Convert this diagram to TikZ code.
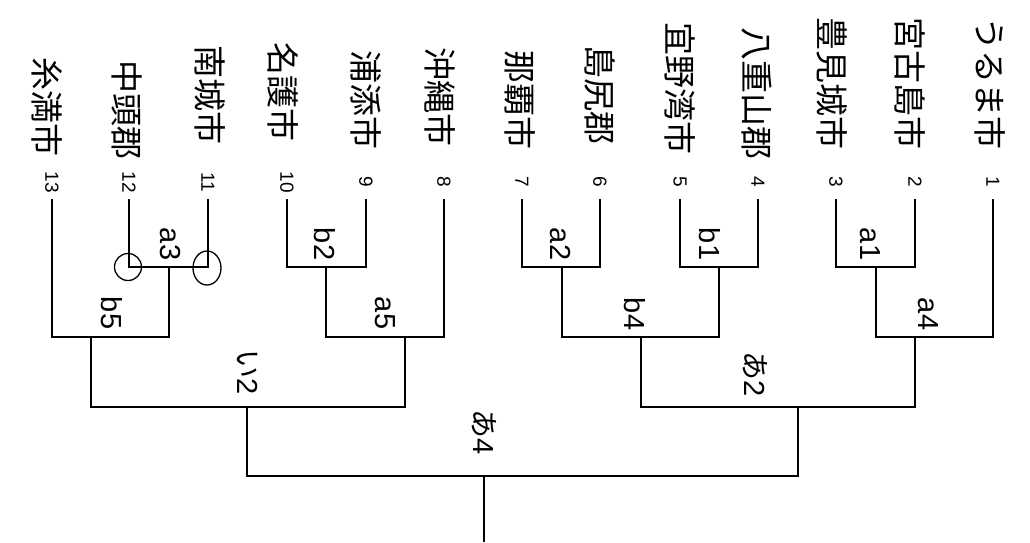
\documentclass[tikz,border=0pt]{standalone}
\usepackage{fontspec}
\setmainfont{Liberation Sans}
\newfontfamily\jp{Noto Sans CJK JP}
\begin{document}
\begin{tikzpicture}[x=1pt,y=-1pt,
  wire/.style={draw=black, line width=1.5pt},
  ring/.style={draw=black, line width=1.3pt, fill=none},
  entrant/.style={rotate=-90, anchor=east, inner sep=0pt, font=\jp\fontsize{33}{33}\selectfont},
  seed/.style={rotate=-90, inner sep=0pt, font=\fontsize{19}{19}\selectfont},
  match/.style={rotate=-90, inner sep=0pt, font=\fontsize{29}{29}\selectfont},
]
\useasboundingbox (0,0) rectangle (1030,542);
\fill[white] (0,0) rectangle (1030,542);

% entrants
\node[entrant] (e1)  at (990,150) {うるま市};
\node[entrant] (e2)  at (910,150) {宮古島市};
\node[entrant] (e3)  at (832,150) {豊見城市};
\node[entrant] (e4)  at (757,160) {八重山郡};
\node[entrant] (e5)  at (680,155) {宜野湾市};
\node[entrant] (e6)  at (600,145) {島尻郡};
\node[entrant] (e7)  at (520,150) {那覇市};
\node[entrant] (e8)  at (440,147) {沖縄市};
\node[entrant] (e9)  at (366,150) {浦添市};
\node[entrant] (e10) at (283,142) {名護市};
\node[entrant] (e11) at (210,145) {南城市};
\node[entrant] (e12) at (127,160) {中頭郡};
\node[entrant] (e13) at (47,157) {糸満市};

% seed numbers
\node[seed] (n1)  at (993,182) {1};
\node[seed] (n2)  at (915,182) {2};
\node[seed] (n3)  at (836,182) {3};
\node[seed] (n4)  at (758,182) {4};
\node[seed] (n5)  at (680,182) {5};
\node[seed] (n6)  at (600,182) {6};
\node[seed] (n7)  at (522,182) {7};
\node[seed] (n8)  at (444,182) {8};
\node[seed] (n9)  at (366,182) {9};
\node[seed] (n10) at (287,182) {10};
\node[seed] (n11) at (208,182) {11};
\node[seed] (n12) at (129,182) {12};
\node[seed] (n13) at (52,182) {13};

% leaf tops
\coordinate (l1)  at (993,199);
\coordinate (l2)  at (915,199);
\coordinate (l3)  at (836,199);
\coordinate (l4)  at (758,199);
\coordinate (l5)  at (680,199);
\coordinate (l6)  at (600,199);
\coordinate (l7)  at (522,199);
\coordinate (l8)  at (444,199);
\coordinate (l9)  at (366,199);
\coordinate (l10) at (287,199);
\coordinate (l11) at (208,199);
\coordinate (l12) at (129,199);
\coordinate (l13) at (52,199);

% junctions
\coordinate (ja1) at (876,267);
\coordinate (jb1) at (719,267);
\coordinate (ja2) at (562,267);
\coordinate (jb2) at (326,267);
\coordinate (ja3) at (169,267);
\coordinate (ja4) at (915,337);
\coordinate (jb4) at (641,337);
\coordinate (ja5) at (405,337);
\coordinate (jb5) at (91,337);
\coordinate (jA2) at (798,407);
\coordinate (jI2) at (247,407);
\coordinate (jA4) at (484,476);
\coordinate (root) at (484,542);

% bracket lines
\draw[wire] (l3) |- (ja1) -| (l2);
\draw[wire] (ja1) |- (ja4) -| (l1);
\draw[wire] (l5) |- (jb1) -| (l4);
\draw[wire] (l7) |- (ja2) -| (l6);
\draw[wire] (ja2) |- (jb4) -| (jb1);
\draw[wire] (jb4) |- (jA2) -| (ja4);
\draw[wire] (l10) |- (jb2) -| (l9);
\draw[wire] (jb2) |- (ja5) -| (l8);
\draw[wire] (l12) |- (ja3) -| (l11);
\draw[wire] (l13) |- (jb5) -| (ja3);
\draw[wire] (jb5) |- (jI2) -| (ja5);
\draw[wire] (jI2) |- (jA4) -| (jA2);
\draw[wire] (jA4) -- (root);

% circles
\draw[ring] (128,267) circle (13.5);
\draw[ring] (207,268) ellipse (14 and 17);

% match labels
\node[match] (ma1) at (870,244) {a1};
\node[match] (mb1) at (710,244) {b1};
\node[match] (ma2) at (560,244) {a2};
\node[match] (mb2) at (325,244) {b2};
\node[match] (ma3) at (170,244) {a3};
\node[match] (mb4) at (635,314) {b4};
\node[match] (ma4) at (928,314) {a4};
\node[match] (ma5) at (385,313) {a5};
\node[match] (mb5) at (112,313) {b5};
\node[match] (mA2) at (755,374) {{\jp あ}2};
\node[match] (mI2) at (248,372) {{\jp い}2};
\node[match] (mA4) at (484,432) {{\jp あ}4};
\end{tikzpicture}
\end{document}
